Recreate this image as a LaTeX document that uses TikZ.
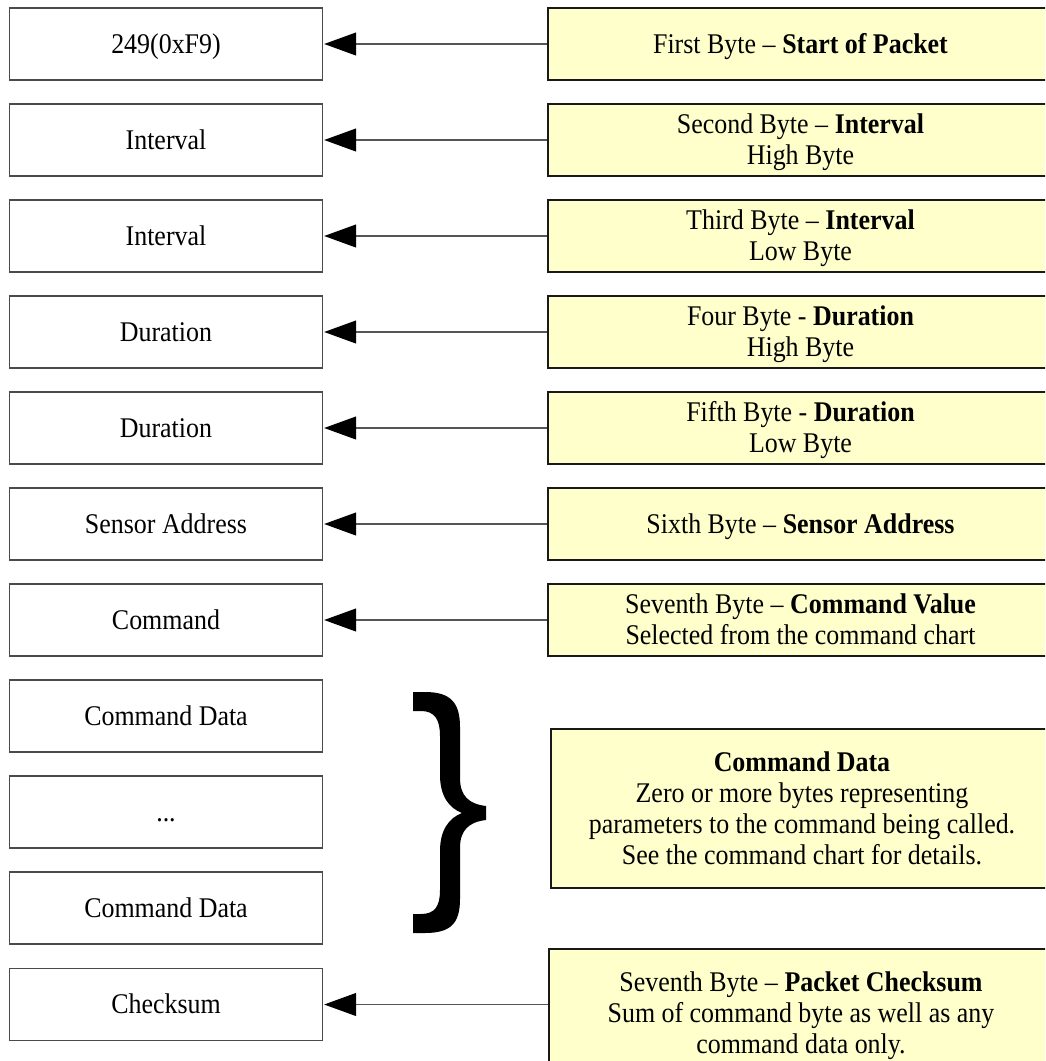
\documentclass[tikz,border=0pt]{standalone}
\usepackage{fontspec}
\setmainfont[FakeStretch=0.91]{Liberation Serif}
\usetikzlibrary{arrows.meta}
\definecolor{notefill}{HTML}{FFFFCC}
\definecolor{edgegray}{HTML}{4A4A4A}
\definecolor{linkgray}{HTML}{555555}
% cap height and line pitch of the label font, in pt
\def\capht{18.9}
\def\pitch{31}
\tikzset{
  field/.style={draw=edgegray, line width=1.3pt, fill=white,
    minimum width=313.5pt, minimum height=72pt, inner sep=0pt},
  note/.style={draw=black!90, line width=1.3pt, fill=notefill,
    minimum width=505pt, minimum height=72pt, inner sep=0pt},
  label text/.style={inner sep=0pt, anchor=base,
    font=\fontsize{28.5}{31}\selectfont},
  link/.style={draw=linkgray, line width=1.1pt,
    -{Triangle[length=32pt, width=23pt, color=black]}, shorten >=0.8pt}
}
% box, then its text block (cap top of first line to last baseline)
% centred on the box; #4 is the number of lines
\newcommand\textblock[3]{%
  \node[label text] (#1-text) at ([yshift={-(\capht+(#2-1)*\pitch)/2}]#1.center)
    {\begin{tabular}[b]{@{}c@{}}#3\end{tabular}};}
\newcommand\fieldbox[3]{%
  \node[field] (#1) at (#2) {};
  \textblock{#1}{1}{#3}}
\newcommand\notebox[5][]{%
  \node[note, #1] (#2) at (#3) {};
  \textblock{#2}{#4}{#5}}
\begin{document}
\begin{tikzpicture}[x=1pt, y=-1pt]
\useasboundingbox (0,0) rectangle (1045,1061);
\clip (0,0) rectangle (1045,1061);

% packet fields, top to bottom
\fieldbox{f1}{166,44}{249(0xF9)}
\fieldbox{f2}{166,140}{Interval}
\fieldbox{f3}{166,236}{Interval}
\fieldbox{f4}{166,332}{Duration}
\fieldbox{f5}{166,428}{Duration}
\fieldbox{f6}{166,524}{Sensor Address}
\fieldbox{f7}{166,620}{Command}
\fieldbox{f8}{166,716}{Command Data}
\fieldbox{f9}{166,812}{...}
\fieldbox{f10}{166,908}{Command Data}
\fieldbox{f11}{166,1004.5}{Checksum}

% descriptions
\notebox{n1}{800.5,44}{1}{First Byte -- \textbf{Start of Packet}}
\notebox{n2}{800.5,140}{2}{Second Byte -- \textbf{Interval}\\High Byte}
\notebox{n3}{800.5,236}{2}{Third Byte -- \textbf{Interval}\\Low Byte}
\notebox{n4}{800.5,332}{2}{Four Byte - \textbf{Duration}\\High Byte}
\notebox{n5}{800.5,428}{2}{Fifth Byte - \textbf{Duration}\\Low Byte}
\notebox{n6}{800.5,524}{1}{Sixth Byte -- \textbf{Sensor Address}}
\notebox{n7}{800.5,620}{2}{Seventh Byte -- \textbf{Command Value}\\Selected from the command chart}
\notebox[minimum width=502pt, minimum height=159pt]{n8}{802,808.5}{4}
  {\textbf{Command Data}\\Zero or more bytes representing\\parameters to the command being called.\\See the command chart for details.}
\notebox[minimum width=504pt, minimum height=129pt]{n9}{801,1013.5}{3}
  {Seventh Byte -- \textbf{Packet Checksum}\\Sum of command byte as well as any\\command data only.}

% heavy brace grouping the command data fields
\fill[black]
  (413,692) -- (425,692)
  .. controls (451,692) and (460,703) .. (460,727)
  -- (460,778)
  .. controls (460,796) and (469,804) .. (486,806)
  -- (486,820)
  .. controls (469,822) and (460,830) .. (460,848)
  -- (460,899)
  .. controls (460,923) and (451,933) .. (425,933)
  -- (413,933) -- (413,914) -- (421,914)
  .. controls (435,914) and (440,906) .. (440,890)
  -- (440,851)
  .. controls (440,830) and (449,818) .. (462,813)
  .. controls (449,808) and (440,796) .. (440,775)
  -- (440,736)
  .. controls (440,720) and (435,711) .. (421,711)
  -- (413,711) -- cycle;

% links from descriptions to fields
\draw[link] (n1.west) -- (f1.east);
\draw[link] (n2.west) -- (f2.east);
\draw[link] (n3.west) -- (f3.east);
\draw[link] (n4.west) -- (f4.east);
\draw[link] (n5.west) -- (f5.east);
\draw[link] (n6.west) -- (f6.east);
\draw[link] (n7.west) -- (f7.east);
\draw[link] (n9.west |- f11.east) -- (f11.east);
\end{tikzpicture}
\end{document}
